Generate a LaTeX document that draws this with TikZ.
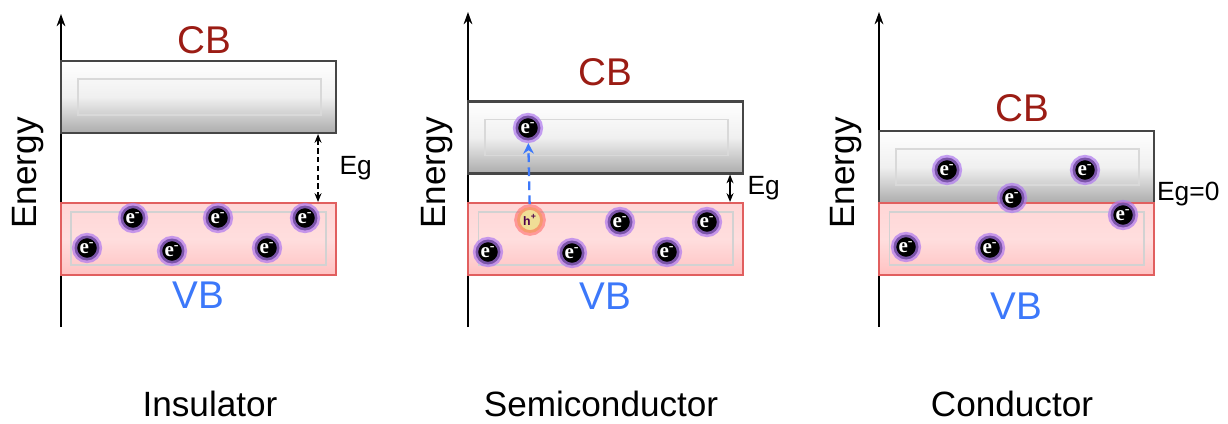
\documentclass[tikz,border=0pt]{standalone}
\usepackage{fontspec}
\setmainfont{Liberation Sans}
\newfontfamily\elfont{Liberation Serif}
\usetikzlibrary{arrows.meta, positioning, calc}
\definecolor{cbred}{RGB}{155, 28, 20}
\definecolor{vbblue}{RGB}{60, 120, 250}
\definecolor{glowpurple}{RGB}{175, 120, 240}
\definecolor{vbedge}{RGB}{225, 95, 95}
\definecolor{holefill}{RGB}{240, 222, 150}

\begin{document}
\begin{tikzpicture}[
        x=0.02cm, y=-0.02cm,
        cbbox/.style={rectangle, minimum width=5.5cm, minimum height=1.44cm, inner sep=0pt, draw=gray!55!black, line width=1.2pt, top color=white, bottom color=gray!65, middle color=gray!12,
            path picture={\draw[gray!30, line width=0.8pt] ([shift={(0.34cm,-0.36cm)}]path picture bounding box.north west) rectangle ([shift={(-0.3cm,0.36cm)}]path picture bounding box.south east);}},
        vbbox/.style={rectangle, minimum width=5.5cm, minimum height=1.44cm, inner sep=0pt, draw=vbedge, line width=1.2pt, top color=red!16, bottom color=red!24, middle color=red!13,
            path picture={\draw[gray!35, line width=0.6pt] ([shift={(0.2cm,-0.18cm)}]path picture bounding box.north west) rectangle ([shift={(-0.2cm,0.2cm)}]path picture bounding box.south east);}},
        electron/.style={circle, fill=black, draw=glowpurple, draw opacity=0.7, line width=3pt, minimum size=0.5cm, inner sep=0pt, text=white, font=\elfont\bfseries\fontsize{12}{12}\selectfont},
        hole/.style={circle, fill=holefill, draw=red!80, draw opacity=0.4, line width=3.2pt, minimum size=0.52cm, inner sep=0pt, text=violet!60!black, font=\bfseries\fontsize{7}{7}\selectfont},
        cblabel/.style={text=cbred, font=\fontsize{22}{26}\selectfont, inner sep=0pt},
        vblabel/.style={text=vbblue, font=\fontsize{22}{26}\selectfont, inner sep=0pt},
        energy/.style={rotate=90, font=\fontsize{20}{24}\selectfont},
        paneltitle/.style={font=\fontsize{20}{24}\selectfont, inner sep=0pt},
        eglabel/.style={font=\fontsize{15}{18}\selectfont, inner sep=2pt},
        energyaxis/.style={-{Stealth[length=7pt, width=5pt]}, line width=1pt},
        egarrow/.style={{Stealth[length=5pt, width=4pt]}-{Stealth[length=5pt, width=4pt]}, line width=0.7pt},
        excite/.style={-{Stealth[length=6pt, width=6pt]}, vbblue, line width=1.3pt, dash pattern=on 5pt off 3pt}
    ]
        \useasboundingbox (0,0) rectangle (1228,423);

        % Insulator
        \coordinate (ax1b) at (61,327);
        \coordinate (ax1t) at (61,14);
        \draw[energyaxis] (ax1b) -- (ax1t);
        \node[energy] (en1) at (28,173) {Energy};
        \node[cbbox] (cb1) at (198.5,97) {};
        \node[vbbox] (vb1) at (198.5,239) {};
        \node[cblabel, above=0.12cm of cb1, xshift=0.12cm] (cbl1) {CB};
        \node[vblabel, below=0.12cm of vb1] (vbl1) {VB};
        \draw[egarrow, dash pattern=on 3pt off 2pt] ([xshift=-0.38cm]cb1.south east) -- ([xshift=-0.38cm]vb1.north east) node[eglabel, midway, right=0.35cm] (eg1) {Eg};
        \node[electron] (e1a) at (133,218) {e\textsuperscript{-}};
        \node[electron] (e1b) at (218,218) {e\textsuperscript{-}};
        \node[electron] (e1c) at (305,218) {e\textsuperscript{-}};
        \node[electron] (e1d) at (87,248) {e\textsuperscript{-}};
        \node[electron] (e1e) at (172,251) {e\textsuperscript{-}};
        \node[electron] (e1f) at (267,248) {e\textsuperscript{-}};
        \node[paneltitle] (t1) at (210,404) {Insulator};

        % Semiconductor
        \coordinate (ax2b) at (468,327);
        \coordinate (ax2t) at (468,12);
        \draw[energyaxis] (ax2b) -- (ax2t);
        \node[energy] (en2) at (437,173) {Energy};
        \node[cbbox] (cb2) at (605.5,137.5) {};
        \node[vbbox] (vb2) at (605.5,239) {};
        \node[cblabel, above=0.28cm of cb2] (cbl2) {CB};
        \node[vblabel, below=0.14cm of vb2] (vbl2) {VB};
        \draw[egarrow] ([xshift=-0.28cm]cb2.south east) -- ([xshift=-0.28cm]vb2.north east) node[eglabel, midway, right=0.27cm] (eg2) {Eg};
        \node[electron] (e2a) at (528,128) {e\textsuperscript{-}};
        \node[hole] (h2) at (530,220) {h\textsuperscript{+}};
        \node[electron] (e2b) at (620,222) {e\textsuperscript{-}};
        \node[electron] (e2c) at (707,222) {e\textsuperscript{-}};
        \node[electron] (e2d) at (488,252) {e\textsuperscript{-}};
        \node[electron] (e2e) at (572,253) {e\textsuperscript{-}};
        \node[electron] (e2f) at (667,252) {e\textsuperscript{-}};
        \draw[excite] (h2) -- (e2a);
        \node[paneltitle] (t2) at (601,404) {Semiconductor};

        % Conductor
        \coordinate (ax3b) at (879,327);
        \coordinate (ax3t) at (879,12);
        \draw[energyaxis] (ax3b) -- (ax3t);
        \node[energy] (en3) at (846,173) {Energy};
        \node[cbbox] (cb3) at (1016.5,167) {};
        \node[vbbox] (vb3) at (1016.5,239) {};
        \node[cblabel, above=0.16cm of cb3, xshift=0.12cm] (cbl3) {CB};
        \node[vblabel, below=0.34cm of vb3] (vbl3) {VB};
        \node[eglabel, anchor=west, inner sep=1pt] (eg3) at ([yshift=0.2cm]cb3.south east) {Eg=0};
        \node[electron] (e3a) at (947,170) {e\textsuperscript{-}};
        \node[electron] (e3b) at (1085,170) {e\textsuperscript{-}};
        \node[electron] (e3c) at (1012,198) {e\textsuperscript{-}};
        \node[electron] (e3d) at (1123,215) {e\textsuperscript{-}};
        \node[electron] (e3e) at (906,247) {e\textsuperscript{-}};
        \node[electron] (e3f) at (990,248) {e\textsuperscript{-}};
        \node[paneltitle] (t3) at (1012,404) {Conductor};
    \end{tikzpicture}
\end{document}
